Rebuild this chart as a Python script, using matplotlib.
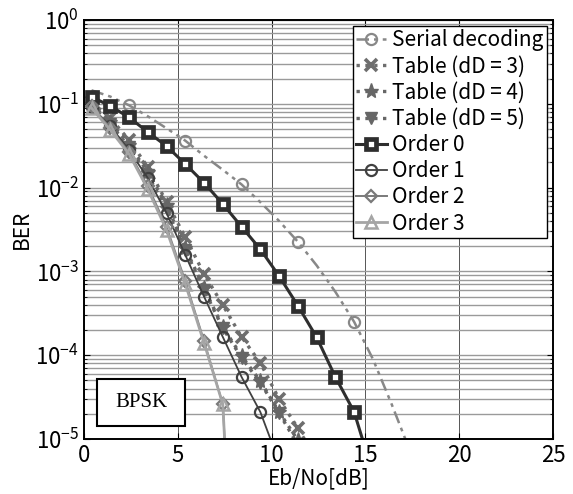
import numpy as np
import matplotlib
matplotlib.use('Agg')
import matplotlib.pyplot as plt
import matplotlib.patches as mpatches

plt.rcParams['font.family'] = ['Noto Sans CJK JP', 'DejaVu Sans']
plt.rcParams['mathtext.fontset'] = 'custom'
plt.rcParams['mathtext.rm'] = 'Noto Sans CJK JP'

# Eb/No [dB] points
ebno_serial = [0.4, 1.4, 2.4, 3.4, 4.4, 5.4, 6.4, 7.4, 8.4, 9.4, 10.4, 11.4, 12.4, 13.4, 14.4, 15.4, 16.4, 17.4]
ber_serial = [0.145, 0.122, 0.096, 0.071, 0.051, 0.0363, 0.024, 0.0163, 0.0109, 0.0067, 0.0040,
              0.00226, 0.00118, 5.7e-4, 2.5e-4, 9.0e-5, 2.6e-5, 7.0e-6]

ebno_t3 = [0.4, 1.4, 2.4, 3.4, 4.4, 5.4, 6.4, 7.4, 8.4, 9.4, 10.4, 11.4, 12.4]
ber_t3 = [0.105, 0.0677, 0.0370, 0.0176, 0.00673, 0.00257, 9.3e-4, 3.97e-4, 1.65e-4, 8.1e-5, 3.0e-5, 1.35e-5, 5.6e-6]

ebno_t4 = [0.4, 1.4, 2.4, 3.4, 4.4, 5.4, 6.4, 7.4, 8.4, 9.4, 10.4, 11.4]
ber_t4 = [0.0995, 0.0606, 0.0322, 0.0154, 0.00620, 0.00190, 6.3e-4, 2.17e-4, 9.8e-5, 4.9e-5, 2.1e-5, 9.7e-6]

ebno_t5 = [0.4, 1.4, 2.4, 3.4, 4.4, 5.4, 6.4, 7.4, 8.4, 9.4, 10.4, 11.4]
ber_t5 = [0.0941, 0.0574, 0.0305, 0.0141, 0.00555, 0.00180, 6.0e-4, 2.11e-4, 9.3e-5, 4.7e-5, 2.04e-5, 8.5e-6]

ebno_o0 = [0.4, 1.4, 2.4, 3.4, 4.4, 5.4, 6.4, 7.4, 8.4, 9.4, 10.4, 11.4, 12.4, 13.4, 14.4, 15.4]
ber_o0 = [0.1216, 0.094, 0.069, 0.046, 0.0313, 0.0191, 0.0114, 0.00637, 0.00341, 0.00184,
          8.8e-4, 3.9e-4, 1.64e-4, 5.5e-5, 2.1e-5, 3.9e-6]

ebno_o1 = [0.4, 1.4, 2.4, 3.4, 4.4, 5.4, 6.4, 7.4, 8.4, 9.4, 10.4]
ber_o1 = [0.0916, 0.0543, 0.0281, 0.0130, 0.00497, 0.00157, 5.0e-4, 1.65e-4, 5.5e-5, 2.1e-5, 5.3e-6]

ebno_o2 = [0.4, 1.4, 2.4, 3.4, 4.4, 5.4, 6.4, 7.4, 8.4]
ber_o2 = [0.0941, 0.0514, 0.0266, 0.0104, 0.00339, 7.7e-4, 1.48e-4, 2.6e-5, 1e-9]

ebno_o3 = [0.4, 1.4, 2.4, 3.4, 4.4, 5.4, 6.4, 7.4, 8.4]
ber_o3 = [0.0891, 0.0487, 0.0252, 0.0096, 0.00312, 7.1e-4, 1.40e-4, 2.6e-5, 1e-9]

fig = plt.figure(figsize=(5.73, 4.94), dpi=100)
ax = fig.add_axes([0.1466, 0.1113, 0.8185, 0.8482])

ax.semilogy(ebno_serial, ber_serial, color='#888888', lw=1.8, ls=(0, (5, 2, 1.5, 2, 1.5, 2)),
            marker='o', ms=8, mfc='none', mew=1.6, markevery=(2, 3), label='Serial decoding')
ax.semilogy(ebno_t3, ber_t3, color='#6e6e6e', lw=2.4, ls=':', marker='x', ms=9, mew=2.6,
            label='Table (dD = 3)')
ax.semilogy(ebno_t4, ber_t4, color='#666666', lw=2.4, ls=':', marker='*', ms=11, mew=1.0,
            label='Table (dD = 4)')
ax.semilogy(ebno_t5, ber_t5, color='#666666', lw=2.4, ls=':', marker='v', ms=8, mew=1.0,
            label='Table (dD = 5)')
ax.semilogy(ebno_o0, ber_o0, color='#2e2e2e', lw=2.2, marker='s', ms=7, mfc='white',
            mec='#2e2e2e', mew=3.4, label='Order 0')
ax.semilogy(ebno_o1, ber_o1, color='#404040', lw=1.3, marker='o', ms=8, mfc='none', mew=1.6,
            label='Order 1')
ax.semilogy(ebno_o2, ber_o2, color='#7a7a7a', lw=1.4, marker='D', ms=6, mfc='none', mew=1.6,
            label='Order 2')
ax.semilogy(ebno_o3, ber_o3, color='#a5a5a5', lw=2.0, marker='^', ms=9, mfc='none', mew=1.8,
            label='Order 3')

ax.set_xlim(0, 25)
ax.set_ylim(1e-5, 1)
ax.set_xticks([0, 5, 10, 15, 20, 25])
ax.grid(which='major', axis='x', color='#555555', lw=0.7)
ax.grid(which='both', axis='y', color='#9a9a9a', lw=1.0)
ax.tick_params(which='both', direction='in', top=True, right=True, labelsize=16)
ax.tick_params(which='major', length=4)
ax.tick_params(which='minor', length=2.5)
for sp in ax.spines.values():
    sp.set_linewidth(1.4)

ax.set_xlabel('Eb/No[dB]', fontsize=15, labelpad=0)
ax.set_ylabel('BER', fontsize=15, labelpad=2)

leg = ax.legend(loc='upper right', fontsize=15, frameon=True, fancybox=False,
                borderaxespad=0.3, handlelength=1.5, handletextpad=0.25,
                labelspacing=0.2, borderpad=0.15)
leg.get_frame().set_edgecolor('black')
leg.get_frame().set_linewidth(1.0)
leg.get_frame().set_alpha(1)

ax.add_patch(mpatches.Rectangle((0.027, 0.032), 0.188, 0.111, transform=ax.transAxes,
                                facecolor='white', edgecolor='black', lw=1.5, zorder=5))
ax.text(0.1215, 0.088, 'BPSK', transform=ax.transAxes, ha='center', va='center',
        fontsize=15, family='Liberation Serif', zorder=6)

plt.savefig('out.png', dpi=100)
